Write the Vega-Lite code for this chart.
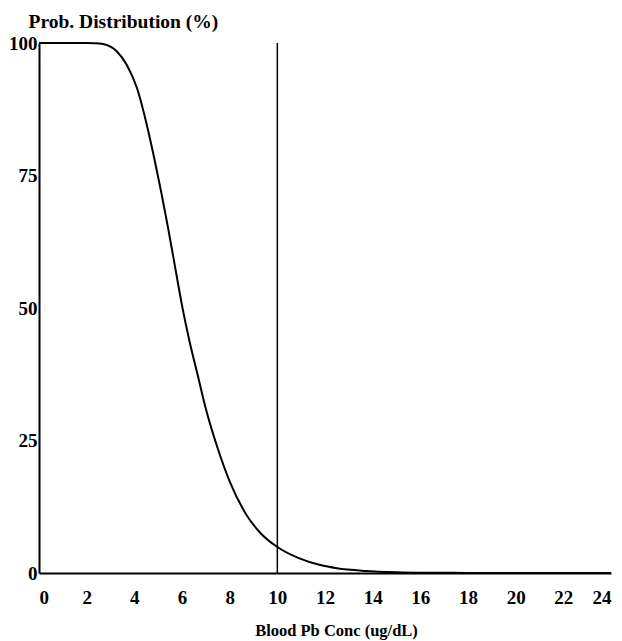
{
  "$schema": "https://vega.github.io/schema/vega-lite/v6.json",
  "width": 572,
  "height": 530,
  "autosize": {"type": "none"},
  "padding": {"left": 39, "top": 43, "right": 11, "bottom": 68},
  "background": "white",
  "config": {
    "view": {"stroke": null},
    "font": "Liberation Serif"
  },
  "datasets": {
    "curve": [
      {"conc": 0, "prob": 100},
      {"conc": 1, "prob": 100},
      {"conc": 2, "prob": 100},
      {"conc": 2.3, "prob": 99.95},
      {"conc": 2.68, "prob": 99.8},
      {"conc": 3.0, "prob": 99.3},
      {"conc": 3.27, "prob": 98.4},
      {"conc": 3.69, "prob": 95.8},
      {"conc": 4.11, "prob": 91.5},
      {"conc": 4.5, "prob": 85},
      {"conc": 4.8, "prob": 79},
      {"conc": 5.1, "prob": 72.5},
      {"conc": 5.4, "prob": 65.5},
      {"conc": 5.7, "prob": 58},
      {"conc": 6.0, "prob": 50.5},
      {"conc": 6.3, "prob": 44},
      {"conc": 6.65, "prob": 37.5},
      {"conc": 7.0, "prob": 31},
      {"conc": 7.5, "prob": 23.5},
      {"conc": 8.0, "prob": 17.3},
      {"conc": 8.7, "prob": 11},
      {"conc": 9.3, "prob": 7.5},
      {"conc": 10, "prob": 4.9},
      {"conc": 10.9, "prob": 2.8},
      {"conc": 11.8, "prob": 1.5},
      {"conc": 12.5, "prob": 0.9},
      {"conc": 13.7, "prob": 0.4},
      {"conc": 15, "prob": 0.15},
      {"conc": 16.5, "prob": 0.05},
      {"conc": 18, "prob": 0.02},
      {"conc": 24, "prob": 0}
    ],
    "ref": [
      {"conc": 10, "lo": 0, "hi": 100}
    ]
  },
  "layer": [
    {
      "data": {"name": "curve"},
      "mark": {"type": "line", "color": "black", "strokeWidth": 2, "interpolate": "monotone"},
      "encoding": {
        "x": {
          "field": "conc", "type": "quantitative",
          "scale": {"domain": [0, 24], "nice": false, "zero": false},
          "axis": {
            "values": [0, 2, 4, 6, 8, 10, 12, 14, 16, 18, 20, 22, 24],
            "title": "Blood Pb Conc (ug/dL)",
            "titleFont": "Liberation Serif", "titleFontSize": 16.5, "titleFontWeight": "bold", "titleColor": "black",
            "titlePadding": 15, "titleX": 297, "titleAlign": "center",
            "labelFont": "Liberation Serif", "labelFontSize": 19, "labelFontWeight": "bold", "labelColor": "black",
            "labelPadding": 15,
            "ticks": false, "grid": false,
            "domainColor": "black", "domainWidth": 2
          }
        },
        "y": {
          "field": "prob", "type": "quantitative",
          "scale": {"domain": [0, 100], "nice": false},
          "axis": {
            "values": [0, 25, 50, 75, 100],
            "title": "Prob. Distribution (%)",
            "titleAngle": 0, "titleAlign": "left", "titleBaseline": "alphabetic",
            "titleX": -11, "titleY": -16,
            "titleFont": "Liberation Serif", "titleFontSize": 19.5, "titleFontWeight": "bold", "titleColor": "black",
            "labelFont": "Liberation Serif", "labelFontSize": 19, "labelFontWeight": "bold", "labelColor": "black",
            "labelPadding": 2,
            "ticks": false, "grid": false,
            "domainColor": "black", "domainWidth": 2
          }
        }
      }
    },
    {
      "data": {"name": "ref"},
      "mark": {"type": "rule", "color": "black", "strokeWidth": 1.5},
      "encoding": {
        "x": {"field": "conc", "type": "quantitative"},
        "y": {"field": "lo", "type": "quantitative"},
        "y2": {"field": "hi"}
      }
    }
  ]
}
